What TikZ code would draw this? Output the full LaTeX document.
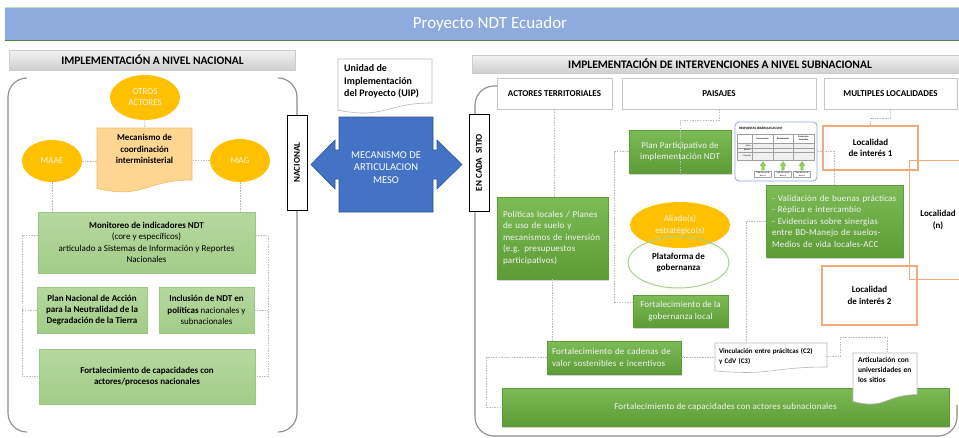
\documentclass[tikz,border=0pt]{standalone}
\usepackage{fontspec}
\setmainfont{Carlito}
\newfontfamily\spacedfont[LetterSpace=2]{Carlito}
\usetikzlibrary{shapes.geometric,shadows,calc}

\definecolor{titleblue}{HTML}{8FAADC}
\definecolor{titletop}{HTML}{C5E0B4}
\definecolor{titlebot}{HTML}{548235}
\definecolor{arrowblue}{HTML}{4472C4}
\definecolor{arrowedge}{HTML}{2F5597}
\definecolor{gold}{HTML}{FFC000}
\definecolor{peach}{HTML}{FFD592}
\definecolor{peachedge}{HTML}{F4B96A}
\definecolor{lgtop}{HTML}{B6D8A0}
\definecolor{lgbot}{HTML}{A3CC88}
\definecolor{lgedge}{HTML}{9CC684}
\definecolor{dgtop}{HTML}{7DBB57}
\definecolor{dgbot}{HTML}{5C9B36}
\definecolor{dgedge}{HTML}{5E9C3A}
\definecolor{locedge}{HTML}{F4A97A}
\definecolor{platedge}{HTML}{A9D18E}
\definecolor{bracketgray}{HTML}{8C8C8C}
\definecolor{linkgray}{HTML}{BDBDBD}
\definecolor{softwhite}{HTML}{F4F4F4}
\definecolor{tableedge}{HTML}{8FAADC}
\definecolor{upgreen}{HTML}{92D050}
\definecolor{upedge}{HTML}{70AD47}

\newcommand\fsz[2]{\fontsize{#1}{#2}\selectfont}
% flowchart "document" outline: style, x1, y1, x2, y2 (wavy bottom edge)
\newcommand\docpath[5]{%
  \path[#1] (#2,#3) -- (#4,#3) -- (#4,{#3+0.80*(#5-#3)})
    .. controls ({(#2+#4)/2},{#3+0.80*(#5-#3)}) and ({(#2+#4)/2},{#3+1.10*(#5-#3)})
    .. (#2,{#3+0.93*(#5-#3)}) -- cycle;}

\tikzset{
  bracket/.style={draw=bracketgray, line width=1.1pt, rounded corners=19pt},
  link/.style={draw=linkgray, line width=0.9pt, dash pattern=on 1.5pt off 1.1pt},
  headbar/.style={rectangle, top color=gray!10, bottom color=gray!38, draw=gray!40,
    line width=0.3pt, inner sep=0pt, font=\bfseries\fsz{11.5}{13}},
  lgbox/.style={rectangle, top color=lgtop, bottom color=lgbot, draw=lgedge,
    line width=0.4pt, align=center, font=\fsz{9}{11.5}, inner sep=2pt},
  dgbox/.style={rectangle, top color=dgtop, bottom color=dgbot, draw=dgedge,
    line width=0.4pt, drop shadow={opacity=0.35, shadow xshift=1.2pt, shadow yshift=-1.6pt},
    text=softwhite, align=center, font=\spacedfont\fsz{9}{11.5}, inner sep=2pt},
  goldell/.style={ellipse, fill=gold, inner sep=0pt, text=softwhite, align=center,
    font=\fsz{9}{11.2}},
  colhead/.style={rectangle, fill=white, draw=gray!45, line width=0.6pt, inner sep=0pt,
    font=\bfseries\fsz{9}{11}},
  sidetag/.style={rectangle, fill=white, draw=black, line width=0.7pt, rotate=90,
    inner sep=0pt, font=\bfseries\fsz{9}{11}},
  locbox/.style={rectangle, draw=locedge, line width=1.1pt, align=center, inner sep=0pt,
    font=\bfseries\fsz{9}{11.5}},
  locline/.style={draw=locedge, line width=1.1pt},
  docfill/.style={fill=white, draw=gray!55, line width=0.6pt},
  tinytxt/.style={inner sep=0pt, align=center, font=\fsz{2.2}{2.6}},
}

\begin{document}
\begin{tikzpicture}[x=1pt, y=-1pt]
\useasboundingbox (0,0) rectangle (959,437);
\fill[white] (0,0) rectangle (959,437);

% ---------- title bar ----------
\fill[titleblue] (5,7) rectangle (959,40);
\draw[titletop, line width=0.6pt] (5,7) -- (959,7);
\draw[titlebot, line width=0.8pt] (5,40) -- (959,40);
\node[text=white, font=\fsz{17}{20}, inner sep=0pt] (title) at (490,23.5) {Proyecto NDT Ecuador};

% ---------- section headers ----------
\node[headbar, minimum width=286pt, minimum height=20pt] (hnat) at (152.5,60)
  {IMPLEMENTACIÓN A NIVEL NACIONAL};
\node[headbar, minimum width=496pt, minimum height=18pt] (hsub) at (720,64)
  {IMPLEMENTACIÓN DE INTERVENCIONES A NIVEL SUBNACIONAL};

% ---------- brackets ----------
\draw[bracket] (27,78) -- (8,78) -- (8,432) -- (27,432);
\draw[bracket] (278,78) -- (297,78) -- (297,432) -- (278,432);
\draw[bracket] (497,86) -- (475,86) -- (475,436) -- (957,436) -- (957,405);

% ---------- national level ----------
\node[goldell, minimum width=70pt, minimum height=45pt] (otros) at (145,97.5) {OTROS\\ACTORES};
\node[goldell, minimum width=60pt, minimum height=42pt] (maae) at (52,161) {MAAE};
\node[goldell, minimum width=60pt, minimum height=43pt] (mag) at (240,160.5) {MAG};

\docpath{fill=peach, draw=peachedge, line width=0.6pt}{97}{128}{192}{193}
\node[minimum width=95pt, minimum height=65pt, inner sep=0pt] (mec) at (144.5,160.5) {};
\node[align=center, inner sep=0pt, font=\bfseries\fsz{9}{11.3}] (mectxt) at (144.5,149)
  {Mecanismo de\\coordinación\\interministerial};

\node[lgbox, minimum width=217pt, minimum height=61pt] (mon) at (146.5,242.5)
  {\textbf{Monitoreo de indicadores NDT}\\(core y específicos)\\articulado a Sistemas de Información y Reportes\\Nacionales};
\node[lgbox, font=\bfseries\fsz{9}{11.3}, minimum width=110pt, minimum height=46pt] (plan) at (92,310)
  {Plan Nacional de Acción\\para la Neutralidad de la\\Degradación de la Tierra};
\node[lgbox, font=\fsz{9}{11.3}, minimum width=95pt, minimum height=46pt] (incl) at (206.5,310)
  {\textbf{Inclusión de NDT en}\\\textbf{políticas} nacionales y\\subnacionales};
\node[lgbox, font=\bfseries\fsz{9}{11.3}, minimum width=216pt, minimum height=55pt] (fcap) at (147,376.5)
  {Fortalecimiento de capacidades con\\actores/procesos nacionales};

\coordinate (lbus) at (22,0);
\coordinate (rbus) at (268,0);
\coordinate (monL) at ([yshift=7pt]mon.west);
\coordinate (monR) at ([yshift=7pt]mon.east);
\draw[link] (otros.south) -- (mec.north);
\draw[link] (maae.east) -- (maae.east -| mec.west);
\draw[link] (mag.west) -- (mag.west -| mec.east);
\draw[link] (maae.south) -- (maae.south |- mon.north);
\draw[link] (mag.south) -- (mag.south |- mon.north);
\draw[link] (monL) -- (monL -| lbus) -- (fcap.west -| lbus) -- (fcap.west);
\draw[link] (plan.west) -- (plan.west -| lbus);
\draw[link] (monR) -- (monR -| rbus) -- (fcap.east -| rbus) -- (fcap.east);
\draw[link] (incl.east) -- (incl.east -| rbus);

\node[sidetag, minimum width=95pt, minimum height=20pt] (nac) at (297,162.5) {NACIONAL};

% ---------- meso level ----------
\docpath{docfill}{338}{59}{432}{114}
\node[anchor=west, align=left, inner sep=0pt, font=\bfseries\fsz{10}{12.5}] (uip) at (344,81.5)
  {Unidad de\\Implementación\\del Proyecto (UIP)};

\path[fill=arrowblue, draw=arrowedge, line width=0.6pt]
  (339,117) -- (433,117) -- (433,150) -- (437,150) -- (437,140) -- (462,164.5)
  -- (437,189) -- (437,179) -- (433,179) -- (433,212) -- (339,212) -- (339,179)
  -- (335,179) -- (335,189) -- (311,164.5) -- (335,140) -- (335,150) -- (339,150) -- cycle;
\node[text=white, align=center, inner sep=0pt, font=\fsz{10.5}{12.7}] (meso) at (386,167.5)
  {MECANISMO DE\\ARTICULACION\\MESO};

\node[sidetag, minimum width=97pt, minimum height=20pt] (sitio) at (479,162.5) {EN CADA\ \ SITIO};

% ---------- subnational level ----------
\node[colhead, minimum width=115pt, minimum height=31pt] (actores) at (554.5,93.5) {ACTORES TERRITORIALES};
\node[colhead, minimum width=194pt, minimum height=31pt] (paisajes) at (719,93.5) {PAISAJES};
\node[colhead, minimum width=133pt, minimum height=31pt] (multi) at (890.5,93.5) {MULTIPLES LOCALIDADES};

\node[dgbox, minimum width=102pt, minimum height=43pt] (pp) at (680,151.5)
  {Plan Participativo de\\implementación NDT};

% hierarchical responses table
\node[rectangle, rounded corners=4pt, draw=tableedge, line width=0.8pt, fill=white,
  minimum width=82pt, minimum height=59pt] (rj) at (776,151.5) {};
\node[anchor=west, inner sep=0pt, font=\bfseries\fsz{3.3}{4}] (rjtitle) at (739,128.5)
  {RESPUESTAS JERÁRQUICAS DNT};
\fill[gray!12] (737,143) rectangle (814,160);
\draw[gray!75, line width=0.3pt] (737,134) rectangle (814,160);
\draw[gray!75, line width=0.3pt] (737,143) -- (814,143) (737,147.7) -- (814,147.7)
  (737,152.3) -- (814,152.3) (752,134) -- (752,160) (773,134) -- (773,160) (793,134) -- (793,160);
\node[tinytxt, font=\bfseries\fsz{2.2}{2.6}] (hc1) at (762.5,138.5) {Conservación};
\node[tinytxt, font=\bfseries\fsz{2.2}{2.6}] (hc2) at (783,138.5) {Restauración};
\node[tinytxt, font=\bfseries\fsz{2.2}{2.6}] (hc3) at (803.5,138.5) {Producción\\Sostenible};
\node[tinytxt, anchor=east] (rl1) at (751,145.4) {Evitar};
\node[tinytxt, anchor=east] (rl2) at (751,150) {Reducir};
\node[tinytxt, anchor=east] (rl3) at (751,156.2) {Revertir};
\foreach \x/\n in {763/1,783/2,802/3}{
  \path[fill=upgreen, draw=upedge, line width=0.2pt] (\x-1.2,170) -- (\x-1.2,165.5)
    -- (\x-2.8,165.5) -- (\x,161.5) -- (\x+2.8,165.5) -- (\x+1.2,165.5) -- (\x+1.2,170) -- cycle;
  \node[tinytxt, draw=gray!70, line width=0.3pt, fill=white, minimum width=17pt,
    minimum height=6pt] (tu\n) at (\x,174.5) {Tipo de uso de\\tierra \n};
}

\node[locbox, minimum width=95pt, minimum height=44pt] (loc1) at (870.5,148) {Localidad\\de interés 1};
% the far locality box runs off the right edge: only three sides are drawn
\node[locbox, draw=none, minimum width=56pt, minimum height=118pt] (locn) at (938,220) {Localidad\\(n)};
\draw[locline] ([xshift=20pt]locn.north east) -- (locn.north west) -- (locn.south west)
  -- ([xshift=20pt]locn.south east);
\node[locbox, minimum width=95pt, minimum height=59pt] (loc2) at (869.5,295.5) {Localidad\\de interés 2};

\node[dgbox, align=left, text width=125pt, inner xsep=6pt, minimum height=72pt] (val) at (834.5,221)
  {- Validación de buenas prácticas\\- Réplica e intercambio\\- Evidencias sobre sinergias\\entre BD-Manejo de suelos-\\Medios de vida locales-ACC};

\node[dgbox, align=left, text width=99pt, inner xsep=6pt, minimum height=82pt] (pol) at (552.5,238)
  {Políticas locales / Planes\\de uso de suelo y\\mecanismos de inversión\\(e.g. presupuestos\\participativos)};

\node[goldell, minimum width=100pt, minimum height=46pt] (ali) at (680,225) {Aliado(s)\\estratégico(s)};
\node[ellipse, draw=platedge, line width=1pt, inner sep=0pt, align=center,
  minimum width=101pt, minimum height=51pt, font=\bfseries\fsz{9}{11.5}] (plat) at (678.5,262.5)
  {Plataforma de\\gobernanza};

\node[dgbox, minimum width=95pt, minimum height=32pt] (fgl) at (680.5,311)
  {Fortalecimiento de la\\gobernanza local};

\node[dgbox, align=left, text width=124pt, inner xsep=5pt, minimum height=33pt] (cad) at (614,357.5)
  {Fortalecimiento de cadenas de\\valor sostenibles e incentivos};

\docpath{docfill}{715}{343}{827}{373}
\node[align=left, text width=104pt, inner xsep=4pt, inner ysep=0pt, minimum height=26pt,
  font=\bfseries\fsz{7}{10}] (vinc) at (771,356)
  {Vinculación entre prácitcas (C2)\\y CdV (C3)};

\node[dgbox, minimum width=447pt, minimum height=38pt] (fsub) at (725.5,407)
  {Fortalecimiento de capacidades con actores subnacionales};

\docpath{docfill}{853}{353}{917}{405}
\node[align=left, text width=54pt, inner xsep=5pt, inner ysep=0pt, minimum height=34pt,
  font=\bfseries\fsz{7.5}{10}] (art) at (885,370)
  {Articulación con\\universidades en\\los sitios};

% dotted links
\coordinate (fglL) at ([yshift=9pt]fgl.west);
\draw[link] (actores.south) -- (actores.south |- pol.north);
\draw[link] (pol.south) -- (pol.south |- cad.north);
\draw[link] (paisajes.south) -- ++(0,11) -| (pp.north) -- (pp.south);
\draw[link] (pp.west) -- ++(-14,0) |- (fglL);
\draw[link] (multi.south) -- ++(0,9) -| (loc1.north);
\draw[link] (rj.east) -| (val.north);
\draw[link] (val.west) -| ($(vinc.north)+(-25,0)$);
\draw[link] (cad.east) -- (cad.east -| vinc.west);
\draw[link] (vinc.east) -- ++(13,0) |- ($(art.north)+(2,-15)$) -- ($(art.north)+(2,0)$);
\draw[link] (cad.west) -- ++(-60,0) |- (fsub.west);
\end{tikzpicture}
\end{document}
